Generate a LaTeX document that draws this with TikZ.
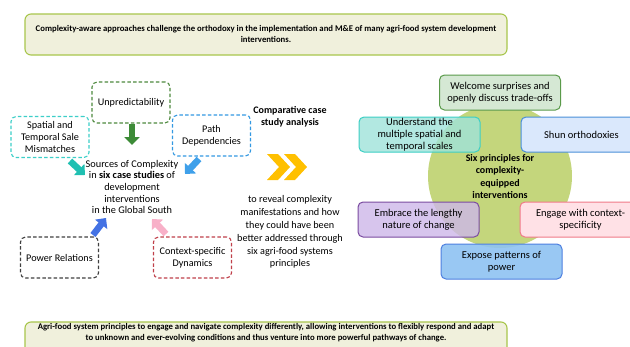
\documentclass[tikz,border=0pt]{standalone}
\usepackage{fontspec}
\setmainfont{Carlito}
\usetikzlibrary{arrows.meta}

% palette
\definecolor{bannerline}{HTML}{A8C64C}
\definecolor{bannerfill}{HTML}{F0F0DC}
\definecolor{dgreen}{HTML}{4E8A3E}
\definecolor{dteal}{HTML}{3CCFC8}
\definecolor{dblue}{HTML}{3499E2}
\definecolor{dgray}{HTML}{404040}
\definecolor{dred}{HTML}{C0404A}
\definecolor{agreen}{HTML}{3D8B37}
\definecolor{ateal}{HTML}{20C0B2}
\definecolor{alblue}{HTML}{3FA0EA}
\definecolor{arblue}{HTML}{4472E4}
\definecolor{apink}{HTML}{F8B0C8}
\definecolor{chev}{HTML}{FFC000}
\definecolor{circ}{HTML}{C4D67C}
\definecolor{wline}{HTML}{5A9A4A}\definecolor{wfill}{HTML}{D5E8D4}
\definecolor{uline}{HTML}{3CCFC4}\definecolor{ufill}{HTML}{9FE3DA}
\definecolor{sline}{HTML}{4A8FD8}\definecolor{sfill}{HTML}{DAE8FC}
\definecolor{eline}{HTML}{7A4BA0}\definecolor{efill}{HTML}{CDB7E9}
\definecolor{gline}{HTML}{F07A88}\definecolor{gfill}{HTML}{FFE1E6}
\definecolor{xline}{HTML}{4D7FE0}\definecolor{xfill}{HTML}{8EC3F2}

\begin{document}
\begin{tikzpicture}[x=1pt,y=-1pt,
  banner/.style={draw=bannerline, fill=bannerfill, line width=1.1pt, rounded corners=6pt},
  bannertext/.style={align=center, font=\bfseries\fontsize{8.7}{10.8}\selectfont, inner sep=0pt},
  srcbox/.style={dash pattern=on 3.5pt off 2.2pt, line width=1.1pt, rounded corners=5pt,
    minimum width=78pt, minimum height=41pt, align=center,
    font=\fontsize{10.2}{11.6}\selectfont, inner sep=1pt},
  pbox/.style={line width=1pt, rounded corners=5pt, minimum width=121pt, minimum height=35pt,
    align=center, font=\fontsize{10.5}{12}\selectfont, inner sep=1pt,
    fill opacity=0.8, text opacity=1},
  blockarrow/.style={line width=6.5pt, -{Triangle[width=15pt,length=8pt]}},
  plain/.style={align=center, inner sep=0pt}
]
\clip (0,0) rectangle (630,346);
\fill[white] (0,0) rectangle (630,346);

% top banner
\node[banner, minimum width=482pt, minimum height=41pt] (top) at (266,34.5) {};
\node[bannertext] (toptext) at (266,34) {Complexity-aware approaches challenge the orthodoxy in the implementation and M\&E of many agri-food system development\\interventions.};

% bottom banner
\node[banner, minimum width=482pt, minimum height=34pt] (bottom) at (266,339) {};
\node[bannertext] (bottomtext) at (266,333) {Agri-food system principles to engage and navigate complexity differently, allowing interventions to flexibly respond and adapt\\to unknown and ever-evolving conditions and thus venture into more powerful pathways of change.};

% sources of complexity
\node[srcbox, draw=dgreen] (unpred) at (131,102.5) {Unpredictability};
\node[srcbox, draw=dteal] (spatial) at (50,137) {Spatial and\\Temporal Sale\\Mismatches};
\node[srcbox, draw=dblue] (path) at (211.5,135.5) {Path\\Dependencies};
\node[srcbox, draw=dgray] (power) at (59.5,257.5) {Power Relations};
\node[srcbox, draw=dred] (context) at (192.5,257.5) {Context-specific\\Dynamics};

\node[plain, font=\fontsize{10.3}{11.6}\selectfont] (sources) at (132,187)
  {Sources of Complexity\\in \textbf{six case studies} of\\development\\interventions\\in the Global South};

% block arrows pointing at the centre text
\coordinate (g0) at (132,124); \coordinate (g1) at (132,145);
\coordinate (t0) at (70,161);  \coordinate (t1) at (85,175);
\coordinate (b0) at (199,159); \coordinate (b1) at (185,174);
\coordinate (r0) at (93,235);  \coordinate (r1) at (106,218);
\coordinate (p0) at (166,234); \coordinate (p1) at (152,219);
\draw[blockarrow, agreen] (g0) -- (g1);
\draw[blockarrow, ateal] (t0) -- (t1);
\draw[blockarrow, alblue] (b0) -- (b1);
\draw[blockarrow, arblue] (r0) -- (r1);
\draw[blockarrow, apink] (p0) -- (p1);

% middle column
\node[plain, font=\bfseries\fontsize{10}{12.2}\selectfont] (compar) at (290,117) {Comparative case\\study analysis};
\fill[chev] (267,154) -- (278,154) -- (290,167) -- (278,180) -- (267,180) -- (279,167) -- cycle;
\fill[chev] (284,154) -- (295,154) -- (307,167) -- (295,180) -- (284,180) -- (296,167) -- cycle;
\node[plain, font=\fontsize{10.2}{12.9}\selectfont] (reveal) at (290,232)
  {to reveal complexity\\manifestations and how\\they could have been\\better addressed through\\six agri-food systems\\principles};

% six principles
\fill[circ] (500,176) circle (72pt);
\node[plain, font=\bfseries\fontsize{10}{12.4}\selectfont] (six) at (500,176.5)
  {Six principles for\\complexity-\\equipped\\interventions};
\node[pbox, draw=wline, fill=wfill, fill opacity=1] (welcome) at (500,92.5) {Welcome surprises and\\openly discuss trade-offs};
\node[pbox, draw=uline, fill=ufill] (underst) at (419.5,134.5) {Understand the\\multiple spatial and\\temporal scales};
\node[pbox, draw=sline, fill=sfill, fill opacity=1] (shun) at (581.5,134.5) {Shun orthodoxies};
\node[pbox, draw=eline, fill=efill] (embrace) at (418.5,219.5) {Embrace the lengthy\\nature of change};
\node[pbox, draw=gline, fill=gfill, fill opacity=1] (engage) at (580.5,219.5) {Engage with context-\\specificity};
\node[pbox, draw=xline, fill=xfill, fill opacity=0.9] (expose) at (501.5,261.5) {Expose patterns of\\power};
\end{tikzpicture}
\end{document}
